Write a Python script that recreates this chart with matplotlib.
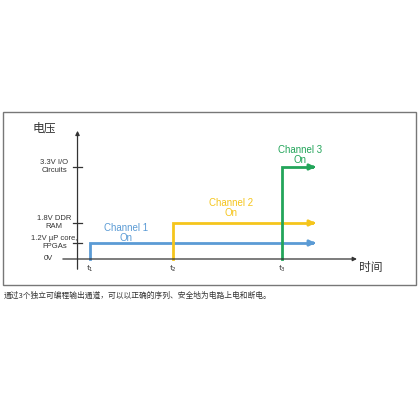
import matplotlib

matplotlib.use("Agg")
import matplotlib.pyplot as plt
from matplotlib.patches import Rectangle

plt.rcParams["font.family"] = ["Noto Sans CJK SC", "DejaVu Sans"]

# switch-on times (t1, t2, t3) and end of trace
on_times = [1.0, 2.0, 3.31]
t_end = 3.75
# voltage levels: label and drawn height on the schematic axis
level_labels = ["0V", "1.2V µP core,\nFPGAs", "1.8V DDR\nRAM", "3.3V I/O\nCircuits"]
level_heights = [0, 16, 36, 92]
channels = ["Channel 1\nOn", "Channel 2\nOn", "Channel 3\nOn"]
colors = ["#5b9bd5", "#f5c51c", "#23a55a"]
time_labels = ["t$_1$", "t$_2$", "t$_3$"]

fig = plt.figure(figsize=(4.2, 4.2), dpi=100)
fig.add_artist(Rectangle((3 / 420, 135 / 420), 413 / 420, 173 / 420,
                         transform=fig.transFigure, fill=False,
                         edgecolor="#777777", linewidth=1))
ax = fig.add_axes([60 / 420, 148 / 420, 300 / 420, 144 / 420])
ax.set_xlim(0.639, 4.253)
ax.set_ylim(-13, 131)
ax.axis("off")

# axes with arrows
ax.annotate("", xy=(4.25, 0), xytext=(0.64, 0),
            arrowprops=dict(arrowstyle="-|>", color="#333333", lw=0.9, mutation_scale=6))
ax.annotate("", xy=(0.85, 131), xytext=(0.85, -13),
            arrowprops=dict(arrowstyle="-|>", color="#333333", lw=0.9, mutation_scale=6))

for h in level_heights[1:]:
    ax.plot([0.79, 0.91], [h, h], color="#333333", lw=0.9)
for lab, h in zip(level_labels, level_heights):
    if h:
        ax.text(0.57, h, lab, ha="center", va="center", fontsize=5.5,
                color="#333333", linespacing=1.2,
                family=["Liberation Sans", "DejaVu Sans"])
    else:
        ax.text(0.55, h, lab, ha="right", va="center", fontsize=5.5,
                color="#333333", family=["Liberation Sans", "DejaVu Sans"])

for i, (t, c) in enumerate(zip(on_times, colors)):
    h = level_heights[i + 1]
    ax.plot([t, t, t_end - 0.08], [0, h, h], color=c, lw=2, solid_joinstyle="miter")
    ax.annotate("", xy=(t_end, h), xytext=(t_end - 0.1, h),
                arrowprops=dict(arrowstyle="-|>", color=c, lw=2, mutation_scale=8))
    ax.text(t, -10, time_labels[i], ha="center", va="center", fontsize=5.5, color="#333333")

label_pos = [(1.43, 26), (2.70, 51), (3.53, 104)]
for (x, y), lab, c in zip(label_pos, channels, colors):
    ax.text(x, y, lab, ha="center", va="center", fontsize=7, color=c,
            linespacing=0.95, family=["Liberation Sans", "DejaVu Sans"])

ax.text(0.45, 131, "电压", ha="center", va="center", fontsize=8.5, color="#333333")
ax.text(4.38, -9, "时间", ha="center", va="center", fontsize=8.5, color="#333333")

fig.text(4 / 420, 1 - 296 / 420, "通过3个独立可编程输出通道，可以以正确的序列、安全地为电路上电和断电。",
         ha="left", va="center", fontsize=5.6, color="#333333")

fig.savefig("out.png", dpi=100)
